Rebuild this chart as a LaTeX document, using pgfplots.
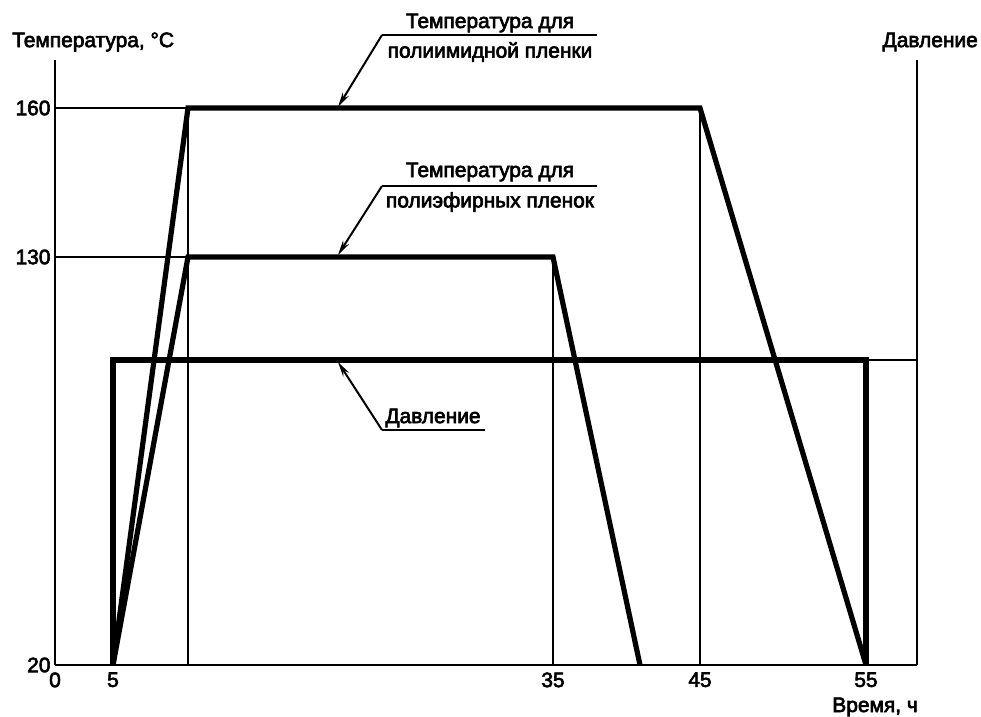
\documentclass[border=0pt]{standalone}
\usepackage{fontspec}
\setmainfont{Liberation Sans}[FakeBold=3]
\usepackage{pgfplots}
\pgfplotsset{compat=1.18}
\usetikzlibrary{arrows.meta}
\begin{document}
\begin{tikzpicture}
\begin{axis}[
  scale only axis,
  width=862bp, height=605bp,
  xmin=0, xmax=862, ymin=0, ymax=605,
  axis x line=bottom, axis y line=left,
  axis line style={-, line width=2.6bp},
  clip=false,
  major tick length=0pt,
  xtick={0,58,498,645,811}, xticklabels={0,5,35,45,55},
  ytick={0,408,557}, yticklabels={20,130,160},
  tick label style={font=\fontsize{21}{25}\selectfont},
  /pgf/number format/assume math mode=true,
  xticklabel style={yshift=-4bp},
  yticklabel style={xshift=-1bp},
]
% canvas
\path (axis cs:-55,-50) rectangle (axis cs:926,665);
% right axis
\addplot[black, line width=2.6bp] coordinates {(862,0) (862,605)};
% thin guide lines
\addplot[black, line width=2.6bp] coordinates {(0,557) (133,557)};
\addplot[black, line width=2.6bp] coordinates {(0,408) (133,408)};
\addplot[black, line width=2.6bp] coordinates {(133,0) (133,557)};
\addplot[black, line width=2.6bp] coordinates {(498,0) (498,408)};
\addplot[black, line width=2.6bp] coordinates {(645,0) (645,557)};
\addplot[black, line width=2.6bp] coordinates {(811,305) (862,305)};
% polyimide temperature
\addplot[black, line width=5.2bp] coordinates {(58,0) (133,557) (645,557) (811,0)};
% polyester temperature
\addplot[black, line width=5.2bp] coordinates {(58,0) (133,408) (498,408) (585,0)};
% pressure
\addplot[black, line width=5.2bp] coordinates {(58,0) (58,305) (811,305) (811,0)};
% annotations
\begin{scope}[every node/.style={font=\fontsize{21}{25}\selectfont, inner sep=0pt}]
\node[anchor=west] at (axis cs:-43,623) {Температура, °C};
\node[anchor=east] at (axis cs:923,623) {Давление};
\node[anchor=east] at (axis cs:863,-42) {Время, ч};
\node at (axis cs:435,642) {Температура для};
\node at (axis cs:435,613) {полиимидной пленки};
\draw[line width=2bp] (axis cs:542,630) -- (axis cs:327,630);
\draw[line width=2bp, -{Stealth[length=15bp,width=7bp]}] (axis cs:327,630) -- (axis cs:283,558);
\node at (axis cs:435,493) {Температура для};
\node at (axis cs:435,463) {полиэфирных пленок};
\draw[line width=2bp] (axis cs:542,479) -- (axis cs:327,479);
\draw[line width=2bp, -{Stealth[length=15bp,width=7bp]}] (axis cs:327,479) -- (axis cs:283,410);
\node at (axis cs:378,247) {Давление};
\draw[line width=2bp] (axis cs:430,235) -- (axis cs:327,235);
\draw[line width=2bp, -{Stealth[length=15bp,width=7bp]}] (axis cs:327,235) -- (axis cs:283,303);
\end{scope}
\end{axis}
\end{tikzpicture}
\end{document}
